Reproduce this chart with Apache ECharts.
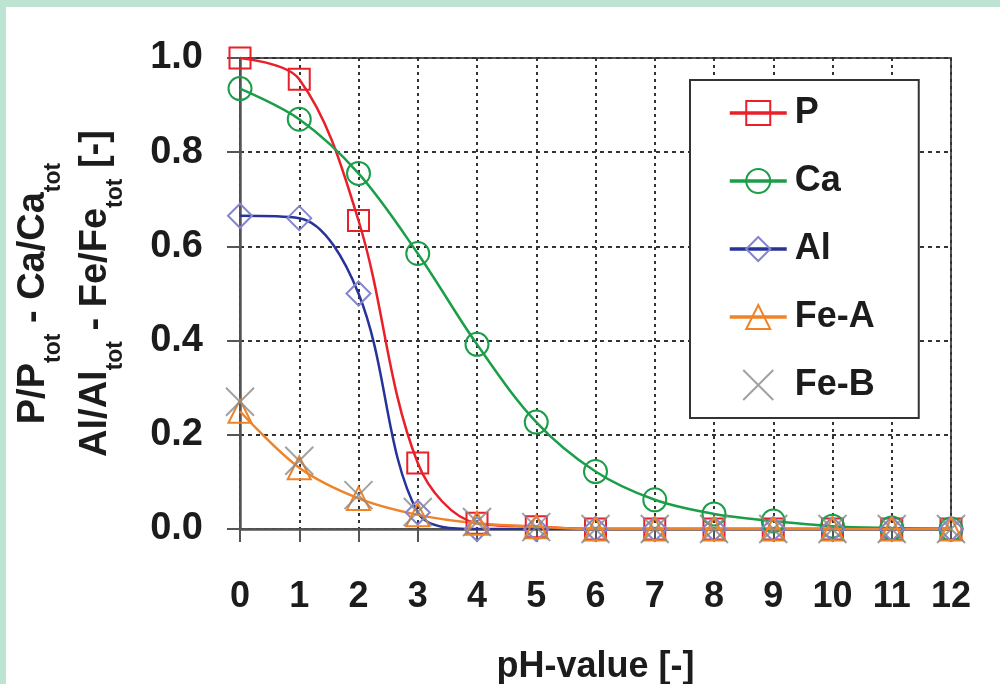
<!DOCTYPE html>
<html><head><meta charset="utf-8">
<script src="https://cdn.jsdelivr.net/npm/echarts@6/dist/echarts.min.js"></script>
<style>
html,body{margin:0;padding:0;width:1000px;height:684px;background:#bde3d2;overflow:hidden}
#panel{position:absolute;left:6px;top:7px;width:994px;height:677px;background:#fff}
#chart{position:absolute;left:0;top:0;width:1000px;height:684px}
</style></head><body><div id="panel"></div><div id="chart"></div>
<script>
const pH = [0,1,2,3,4,5,6,7,8,9,10,11,12];
const valP   = [1.0, 0.955, 0.655, 0.14, 0.012, 0.005, 0, 0, 0, 0, 0, 0, 0];
const valCa  = [0.935, 0.87, 0.755, 0.585, 0.392, 0.227, 0.122, 0.062, 0.032, 0.017, 0.006, 0.002, 0.0];
const valAl  = [0.665, 0.66, 0.50, 0.035, 0.0, 0, 0, 0, 0, 0, 0, 0, 0];
const valFeA = [0.25, 0.13, 0.065, 0.03, 0.012, 0.005, 0, 0, 0, 0, 0, 0, 0];
const valFeB = [0.27, 0.145, 0.072, 0.036, 0.015, 0.004, 0, 0, 0, 0, 0, 0, 0];
const seriesNames = ['P', 'Ca', 'Al', 'Fe-A', 'Fe-B'];
const yTicks = [0, 0.2, 0.4, 0.6, 0.8, 1.0];
const xTitle = 'pH-value [-]';
const yTitle = ['{m|P/P}{s|tot}{m| - Ca/Ca}{s|tot}', '{m|Al/Al}{s|tot}{m| - Fe/Fe}{s|tot}{m| [-]}'].join('\n');

const FONT = '"Liberation Sans", Arial, sans-serif';
const TXT = '#1c1c1c';
const pairs = arr => arr.map((v, i) => [pH[i], v]);
const clear = 'rgba(0,0,0,0)';

function lineSeries(name, data, lineColor, markColor, symbol, size) {
  return {
    name, type: 'line', data: pairs(data), smooth: 0.35,
    symbol, symbolSize: size, showAllSymbol: true,
    lineStyle: { color: lineColor, width: 2.5 },
    itemStyle: { color: clear, borderColor: markColor, borderWidth: 2 },
    emphasis: { disabled: true }, z: 3
  };
}

const chart = echarts.init(document.getElementById('chart'), null, { renderer: 'canvas' });
chart.setOption({
  backgroundColor: 'transparent',
  animation: false,
  grid: { left: 240, right: 49, top: 58, bottom: 155, containLabel: false, outerBoundsMode: 'none',
    show: true, borderColor: '#555', borderWidth: 2, backgroundColor: 'transparent' },
  legend: {
    orient: 'vertical', left: 690, top: 80,
    padding: [13, 44, 13, 38],
    itemWidth: 57, itemHeight: 30, itemGap: 28,
    backgroundColor: '#fff', borderColor: '#333', borderWidth: 2,
    lineStyle: { width: 3.5 },
    textStyle: { fontFamily: FONT, fontSize: 36, fontWeight: 'bold', color: TXT, lineHeight: 40, padding: [0, 0, 0, 3] },
    data: seriesNames
  },
  xAxis: {
    type: 'value', min: 0, max: 12, interval: 1,
    name: xTitle, nameLocation: 'middle', nameGap: 120,
    nameTextStyle: { fontFamily: FONT, fontSize: 36, fontWeight: 'bold', color: TXT },
    axisLine: { onZero: false, lineStyle: { color: '#555', width: 2.5 } },
    axisTick: { show: true, length: 13, lineStyle: { color: '#555', width: 2 } },
    axisLabel: { fontFamily: FONT, fontSize: 36, fontWeight: 'bold', color: TXT, margin: 50, lineHeight: 36 },
    splitLine: { show: true, lineStyle: { color: '#333', width: 2, type: [3, 4] } }
  },
  yAxis: {
    type: 'value', min: 0, max: 1, interval: 0.2,
    name: yTitle, nameLocation: 'middle', nameRotate: 90, nameGap: 101,
    nameTextStyle: {
      rich: {
        m: { fontFamily: FONT, fontSize: 38, fontWeight: 'bold', color: TXT, lineHeight: 62, verticalAlign: 'top' },
        s: { fontFamily: FONT, fontSize: 23, fontWeight: 'bold', color: TXT, lineHeight: 20, padding: [27, 0, 0, 0], verticalAlign: 'top' }
      }
    },
    axisLine: { show: true, lineStyle: { color: '#555', width: 2.5 } },
    axisTick: { show: true, length: 13, lineStyle: { color: '#555', width: 2 } },
    axisLabel: { fontFamily: FONT, fontSize: 38, fontWeight: 'bold', color: TXT, margin: 37,
      formatter: v => yTicks.indexOf(+v.toFixed(1)) >= 0 ? v.toFixed(1) : '' },
    splitLine: { show: true, lineStyle: { color: '#333', width: 2, type: [4, 4] } }
  },
  series: [
    lineSeries('P', valP, '#e8202a', '#e8202a', 'rect', 21),
    lineSeries('Ca', valCa, '#1a9e48', '#1a9e48', 'circle', 23),
    lineSeries('Al', valAl, '#28339a', '#8585cc', 'diamond', 24),
    lineSeries('Fe-A', valFeA, '#f08228', '#f08228', 'triangle', 23),
    {
      name: 'Fe-B', type: 'scatter', data: pairs(valFeB),
      symbol: 'path://M0,0L10,10M10,0L0,10', symbolSize: 28,
      itemStyle: { color: clear, borderColor: '#8a8a8a', borderWidth: 2 },
      emphasis: { disabled: true }, z: 4
    }
  ]
});
</script></body></html>
